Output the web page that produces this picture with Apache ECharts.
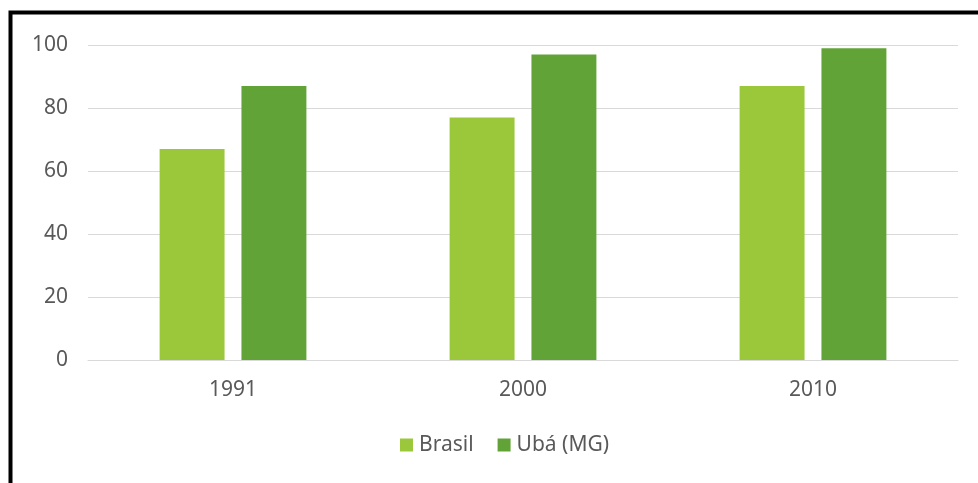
<!DOCTYPE html>
<html>
<head>
<meta charset="utf-8">
<script src="https://cdn.jsdelivr.net/npm/echarts@6/dist/echarts.min.js"></script>
<style>
  html, body { margin: 0; padding: 0; background: #ffffff; }
  #chart { width: 978px; height: 483px; }
</style>
</head>
<body>
<div id="chart"></div>
<script>
// Years on the category axis
const years = ['1991', '2000', '2010'];
// Series values
const brasil = [67, 77, 87];
const uba = [87, 97, 99];
// Value-axis bounds
const yMin = 0;
const yMax = 100;
const yStep = 20;

const textColor = '#595959';
const gridColor = '#d9d9d9';
const font = 'Noto Sans';

const chart = echarts.init(document.getElementById('chart'), null, { renderer: 'canvas' });
chart.setOption({
  backgroundColor: '#ffffff',
  animation: false,
  graphic: [{
    type: 'rect',
    shape: { x: 10.5, y: 12.5, width: 1000, height: 500 },
    style: { fill: 'none', stroke: '#000000', lineWidth: 4 },
    silent: true
  }],
  grid: { left: 88, right: 20, top: 45, bottom: 123 },
  legend: {
    top: 434,
    left: 400,
    padding: 0,
    itemWidth: 13,
    itemHeight: 13,
    itemGap: 24,
    icon: 'rect',
    textStyle: { color: textColor, fontSize: 21, lineHeight: 22, fontFamily: font, padding: [0, 0, 0, 1] },
    data: ['Brasil', 'Ubá (MG)']
  },
  xAxis: {
    type: 'category',
    data: years,
    axisLine: { lineStyle: { color: gridColor, width: 1 } },
    axisTick: { show: false },
    axisLabel: { color: textColor, fontSize: 21, fontFamily: font, margin: 20 }
  },
  yAxis: {
    type: 'value',
    min: yMin,
    max: yMax,
    interval: yStep,
    axisLine: { show: false },
    axisTick: { show: false },
    axisLabel: { color: textColor, fontSize: 21, fontFamily: font, margin: 20 },
    splitLine: { lineStyle: { color: gridColor, width: 1 } }
  },
  series: [
    {
      name: 'Brasil',
      type: 'bar',
      data: brasil,
      barWidth: '22.4%',
      barGap: '26%',
      itemStyle: { color: '#9bc83b' }
    },
    {
      name: 'Ubá (MG)',
      type: 'bar',
      data: uba,
      barWidth: '22.4%',
      itemStyle: { color: '#62a338' }
    }
  ]
});
</script>
</body>
</html>
